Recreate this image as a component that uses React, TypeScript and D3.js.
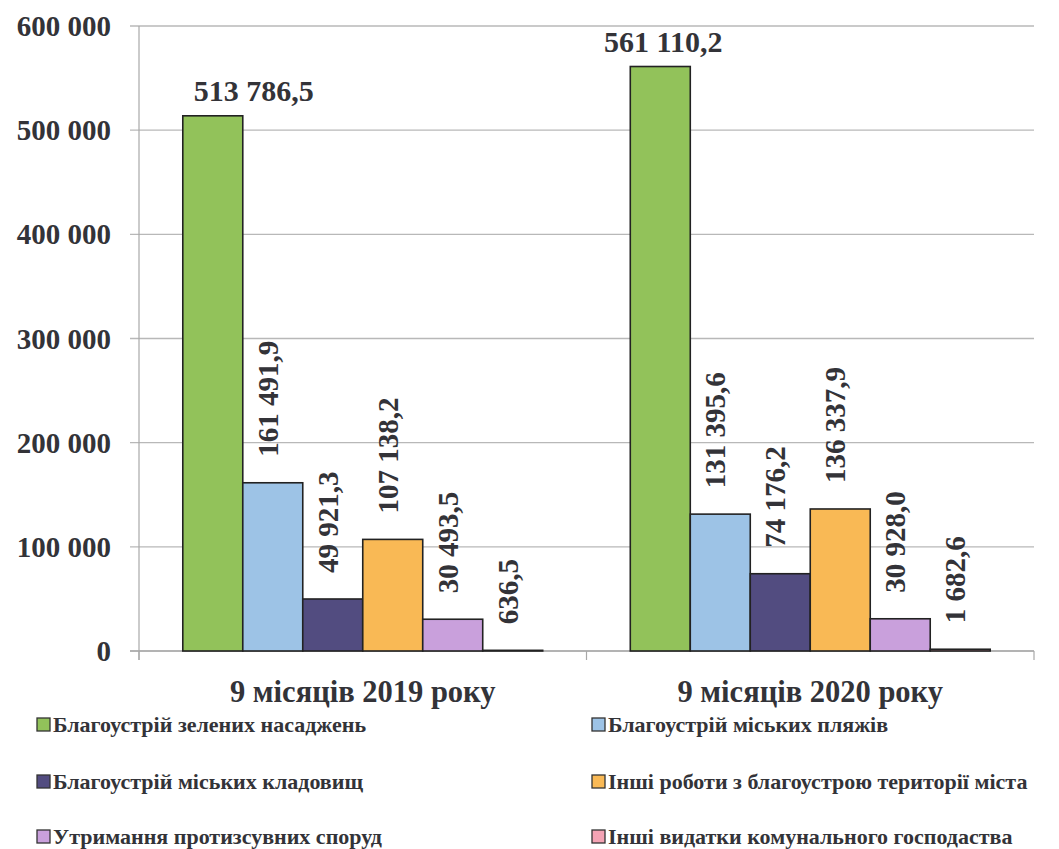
import React from "react";
import * as d3 from "d3";

const categories = ["9 місяців 2019 року", "9 місяців 2020 року"];
const seriesNames = [
  "Благоустрій зелених насаджень",
  "Благоустрій міських пляжів",
  "Благоустрій міських кладовищ",
  "Інші роботи з благоустрою території міста",
  "Утримання протизсувних споруд",
  "Інші видатки комунального господаства",
];
const seriesColors = ["#92C25A", "#9DC3E6", "#524C80", "#F9B955", "#C9A0DC", "#F4A3B4"];
const values2019 = [513786.5, 161491.9, 49921.3, 107138.2, 30493.5, 636.5];
const values2020 = [561110.2, 131395.6, 74176.2, 136337.9, 30928.0, 1682.6];
const valueLabels2019 = ["513 786,5", "161 491,9", "49 921,3", "107 138,2", "30 493,5", "636,5"];
const valueLabels2020 = ["561 110,2", "131 395,6", "74 176,2", "136 337,9", "30 928,0", "1 682,6"];
const yTicks = [0, 100000, 200000, 300000, 400000, 500000, 600000];
const yTickLabels = ["0", "100 000", "200 000", "300 000", "400 000", "500 000", "600 000"];

const W = 1059;
const H = 849;
const FONT = "Liberation Serif";
const TEXT = "#333338";

function T(props: any) {
  const { children, style, ...rest } = props;
  return (
    <text
      fontFamily={FONT}
      fontWeight="bold"
      fill={TEXT}
      style={{ fontFamily: '"Liberation Serif", Tinos, "Nimbus Roman", FreeSerif', fontWeight: 700, ...(style || {}) }}
      {...rest}
    >
      {children}
    </text>
  );
}

export default function App() {
  const left = 139;
  const right = 1034;
  const top = 26;
  const bottom = 651;

  const y = d3.scaleLinear().domain([0, 600000]).range([bottom, top]);
  const x0 = d3.scaleBand<string>().domain(categories).range([left, right]).paddingInner(0).paddingOuter(0);
  const x1 = d3
    .scaleBand<string>()
    .domain(seriesNames)
    .range([0, x0.bandwidth()])
    .paddingInner(0)
    .paddingOuter(0.73);

  const allValues = [values2019, values2020];
  const allLabels = [valueLabels2019, valueLabels2020];
  const topLabelDx = [41, 3];

  const legendRows = [725, 782, 837];
  const legendCols = [37, 592];

  return (
    <svg width={W} height={H} style={{ position: "absolute", left: 0, top: 0 }}>
      <rect x={0} y={0} width={W} height={H} fill="#fff" />
      {yTicks.map((t) => (
        <line
          key={"g" + t}
          x1={left - 9}
          x2={right}
          y1={y(t)}
          y2={y(t)}
          stroke={t === 0 ? "#9a9a9a" : "#b8b8b8"}
          strokeWidth={1.3}
        />
      ))}
      <line x1={left} x2={left} y1={top} y2={bottom + 9} stroke="#a8a8a8" strokeWidth={1.2} />
      {[left, ...categories.map((c) => (x0(c) as number) + x0.bandwidth())].map((xv, i) => (
        <line key={"xt" + i} x1={xv} x2={xv} y1={bottom} y2={bottom + 9} stroke="#a8a8a8" strokeWidth={1.2} />
      ))}
      {yTicks.map((t, i) => (
        <T key={"yl" + t} x={111} y={y(t)} dy="0.35em" textAnchor="end" fontSize={29}>
          {yTickLabels[i]}
        </T>
      ))}
      {categories.map((c, ci) => (
        <g key={c} transform={`translate(${x0(c)},0)`}>
          {seriesNames.map((s, si) => {
            const v = allValues[ci][si];
            const bx = x1(s) as number;
            const by = y(v);
            return (
              <rect
                key={s}
                x={bx}
                y={by}
                width={x1.bandwidth()}
                height={Math.max(0, bottom - by)}
                fill={seriesColors[si]}
                stroke="#222"
                strokeWidth={1.6}
              />
            );
          })}
          {seriesNames.map((s, si) => {
            const v = allValues[ci][si];
            const cx = (x1(s) as number) + x1.bandwidth() / 2;
            const by = y(v);
            if (si === 0) {
              return (
                <T key={"l" + s} x={cx + topLabelDx[ci]} y={by - 15} textAnchor="middle" fontSize={30}>
                  {allLabels[ci][si]}
                </T>
              );
            }
            return (
              <T
                key={"l" + s}
                transform={`translate(${cx - 5},${by - 26}) rotate(-90)`}
                dy="0.35em"
                textAnchor="start"
                fontSize={29}
              >
                {allLabels[ci][si]}
              </T>
            );
          })}
        </g>
      ))}
      {categories.map((c) => (
        <T key={"c" + c} x={(x0(c) as number) + x0.bandwidth() / 2} y={702} textAnchor="middle" fontSize={30.5}>
          {c}
        </T>
      ))}
      {seriesNames.map((s, si) => {
        const row = Math.floor(si / 2);
        const col = si % 2;
        const lx = legendCols[col];
        const ly = legendRows[row];
        return (
          <g key={"lg" + s}>
            <rect x={lx} y={ly - 7} width={13} height={13} fill={seriesColors[si]} stroke="#333" strokeWidth={1.3} />
            <T x={lx + 16} y={ly} dy="0.33em" fontSize={22}>
              {s}
            </T>
          </g>
        );
      })}
    </svg>
  );
}
